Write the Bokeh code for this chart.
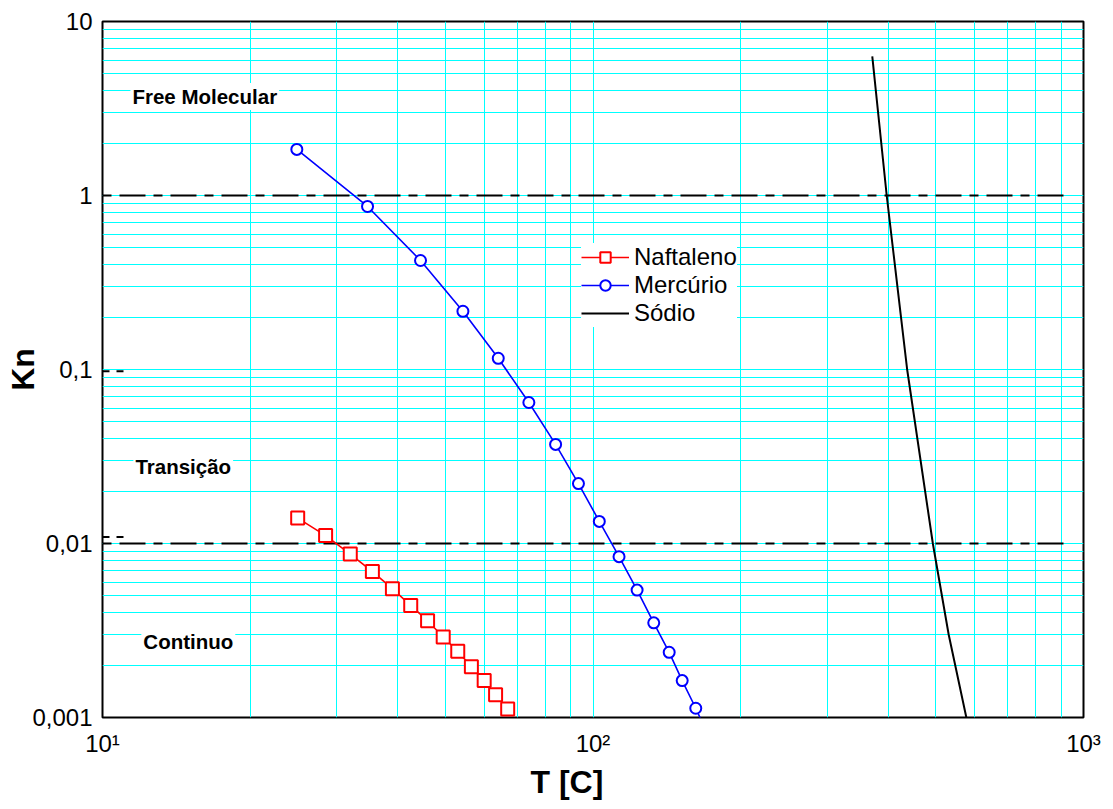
import math
from bokeh.plotting import figure
from bokeh.models import (FixedTicker, CustomJSTickFormatter, Label, Legend, LegendItem, Title)
from bokeh.embed import file_html
from bokeh.resources import INLINE

# ---------------- data ----------------
naft_T = [25, 28.5, 32, 35.5, 39, 42.5, 46, 49.5, 53, 56.5, 60, 63.3, 67]
naft_Kn = [0.0140, 0.0111, 0.0087, 0.0069, 0.0055, 0.0044, 0.0036, 0.0029,
           0.0024, 0.00196, 0.00163, 0.00135, 0.00112]

merc_T = [24.9, 34.7, 44.5, 54.3, 64.1, 74.0, 83.9, 93.4, 103, 113, 123, 133,
          143, 152, 162, 172]
merc_Kn = [1.84, 0.865, 0.423, 0.216, 0.116, 0.0646, 0.0371, 0.0221, 0.0134,
           0.0084, 0.0054, 0.0035, 0.00237, 0.00163, 0.00113, 0.00078]

sod_T = [371, 397, 437, 493, 531, 577]
sod_Kn = [6.3, 1.0, 0.1, 0.01, 0.003, 0.001]

limit_T = [10, 936]
limit_upper = [1.0, 1.0]
limit_lower = [0.01, 0.01]

stub_T = [10, 11.09]
stub_a = [0.0977, 0.0977]
stub_b = [0.0109, 0.0109]

x_major = [10, 100, 1000]
y_major = [0.001, 0.01, 0.1, 1, 10]

regions = ["Free Molecular", "Transição", "Continuo"]
region_T = [11.4, 11.56, 12.0]
region_Kn = [3.71, 0.0277, 0.00273]

FONT = "Liberation Sans"
GRID = "#00ffff"

p = figure(width=1108, height=803, x_axis_type="log", y_axis_type="log",
           x_range=(10, 1000), y_range=(0.001, 10),
           output_backend="svg", toolbar_location=None,
           min_border_left=102, min_border_right=25,
           min_border_top=21, min_border_bottom=86)
p.background_fill_color = "white"
p.border_fill_color = "white"
p.outline_line_color = "black"
p.outline_line_width = 2

x_minor = [m * d for d in x_major[:-1] for m in range(2, 10)]
y_minor = [m * d for d in y_major[:-1] for m in range(2, 10)]
xt = FixedTicker(ticks=x_major, minor_ticks=x_minor)
yt = FixedTicker(ticks=y_major, minor_ticks=y_minor)
p.xaxis.ticker = xt
p.yaxis.ticker = yt
p.xgrid.ticker = xt
p.ygrid.ticker = yt

for g in (p.xgrid, p.ygrid):
    g.grid_line_color = GRID
    g.grid_line_width = 1
    g.minor_grid_line_color = GRID
    g.minor_grid_line_width = 1

p.xaxis.formatter = CustomJSTickFormatter(code="""
const e = Math.round(Math.log10(tick));
const sup = {0: "\u2070", 1: "\u00b9", 2: "\u00b2", 3: "\u00b3"};
return "10" + sup[e];
""")
p.yaxis.formatter = CustomJSTickFormatter(code="""
if (tick >= 1) { return tick.toFixed(0); }
const e = Math.round(-Math.log10(tick));
return tick.toFixed(e).replace('.', ',');
""")

for ax in (p.xaxis, p.yaxis):
    ax.axis_line_color = None
    ax.major_tick_line_color = None
    ax.minor_tick_line_color = None
    ax.major_tick_out = 0
    ax.major_tick_in = 0
    ax.minor_tick_out = 0
    ax.minor_tick_in = 0
    ax.major_label_text_font = FONT
    ax.major_label_text_font_size = "24px"
    ax.major_label_text_color = "black"
p.xaxis.major_label_standoff = 12
p.yaxis.major_label_standoff = 10

# y axis title
p.yaxis.axis_label = "Kn"
p.yaxis.axis_label_text_font = FONT
p.yaxis.axis_label_text_font_size = "32px"
p.yaxis.axis_label_text_font_style = "bold"
p.yaxis.axis_label_text_color = "black"
p.yaxis.axis_label_standoff = -12

# x axis title
p.add_layout(Title(text="T  [C]", align="left", offset=428, standoff=5,
                   text_font=FONT, text_font_size="32px", text_font_style="bold",
                   text_color="black"), "below")

# dash-dot regime limits
p.line(limit_T, limit_upper, line_color="black", line_width=2, line_dash="9 8 26 8")
p.line(limit_T, limit_lower, line_color="black", line_width=2, line_dash="9 8 26 8")
p.line(stub_T, stub_a, line_color="black", line_width=2, line_dash="7 7")
p.line(stub_T, stub_b, line_color="black", line_width=2, line_dash="7 7")

# series
r_nl = p.line(naft_T, naft_Kn, line_color="#ff0000", line_width=1.6)
r_ns = p.scatter(naft_T, naft_Kn, marker="square", size=13, line_color="#ff0000",
                 line_width=2, fill_color="white")
r_ml = p.line(merc_T, merc_Kn, line_color="#0000ff", line_width=1.6)
r_ms = p.scatter(merc_T, merc_Kn, marker="circle", size=11, line_color="#0000ff",
                 line_width=2, fill_color="white")
r_s = p.line(sod_T, sod_Kn, line_color="black", line_width=2)

legend = Legend(items=[LegendItem(label="Naftaleno", renderers=[r_nl, r_ns]),
                       LegendItem(label="Mercúrio", renderers=[r_ml, r_ms]),
                       LegendItem(label="Sódio", renderers=[r_s])],
                location=(479, 390), orientation="vertical",
                label_text_font=FONT, label_text_font_size="24px",
                label_text_color="black",
                label_height=27, glyph_width=48, glyph_height=26,
                label_standoff=5, spacing=0, padding=2, margin=0,
                border_line_color=None, background_fill_color="white",
                background_fill_alpha=1.0)
p.add_layout(legend)

for txt, tx, ky in zip(regions, region_T, region_Kn):
    p.add_layout(Label(x=tx, y=ky, text=txt, text_align="left",
                       text_baseline="middle", text_font=FONT,
                       text_font_size="20.5px", text_font_style="bold",
                       text_color="black",
                       background_fill_color="white", padding=2))

open("out.html", "w").write(file_html(p, INLINE))
